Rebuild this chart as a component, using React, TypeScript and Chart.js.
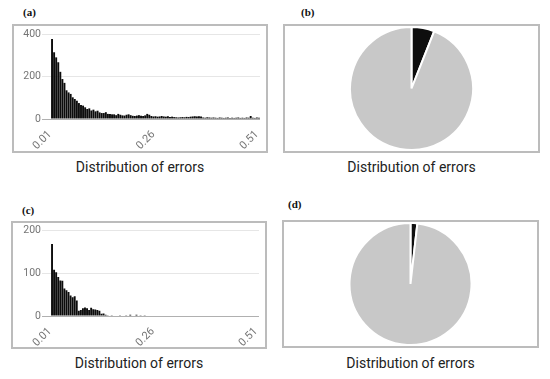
import React, { useEffect, useRef } from "react";
import { Chart, registerables } from "chart.js";

Chart.register(...registerables);
Chart.defaults.font.family = "Roboto";

// Bin starts: 0.010, 0.015, ..., 0.510 (101 bins)
const binStart = 0.01;
const binStep = 0.005;
const binCount = 101;
const binLabels: string[] = [];
for (let i = 0; i < binCount; i++) binLabels.push((binStart + i * binStep).toFixed(3));
const tickLabels = ["0.01", "0.26", "0.51"];
const tickEvery = 50;

// (a) histogram counts
const errorsA = [
  376, 314, 290, 267, 222, 188, 170, 135, 125, 118,
  102, 94, 86, 75, 66, 63, 55, 47, 50, 40,
  44, 36, 39, 31, 28, 28, 32, 24, 24, 22,
  22, 18, 24, 20, 17, 16, 20, 22, 18, 15,
  14, 16, 18, 15, 14, 17, 24, 20, 14, 12,
  13, 11, 12, 14, 12, 11, 13, 10, 11, 9,
  8, 7, 8, 9, 8, 10, 9, 11, 12, 13,
  12, 13, 12, 7, 6, 8, 7, 6, 7, 6,
  5, 7, 6, 5, 6, 7, 5, 6, 5, 6,
  7, 5, 6, 5, 7, 6, 14, 6, 5, 7, 6,
];

// (c) histogram counts
const errorsC = [
  168, 108, 102, 91, 83, 82, 64, 60, 56, 48,
  44, 46, 36, 12, 14, 18, 20, 18, 14, 19,
  16, 15, 14, 12, 5, 6, 3, 2, 1, 2,
  1, 0, 1, 2, 0, 1, 2, 1, 3, 1,
  0, 3, 1, 2, 1, 2, 0, 1, 1, 0,
  1, 0, 0, 0, 0, 0, 0, 0, 0, 0,
  0, 0, 0, 0, 0, 0, 0, 0, 0, 0,
  0, 0, 0, 0, 0, 0, 0, 0, 0, 0,
  0, 0, 0, 0, 0, 0, 0, 0, 0, 0,
  0, 0, 0, 0, 0, 0, 0, 0, 0, 0, 0,
];

const pieLabels = ["Large errors", "Small errors"];
const pieB = [6, 94];
const pieD = [1.8, 98.2];
const pieColors = ["#0e0e0e", "#c8c8c8"];

const yMaxA = 400;
const yStepA = 200;
const yMaxC = 200;
const yStepC = 100;

const TITLE = "Distribution of errors";

type HistProps = {
  left: number; top: number; width: number; height: number;
  data: number[]; max: number; step: number;
  yWidth: number; padTop: number; xHeight: number;
};

function Hist(p: HistProps) {
  const ref = useRef<HTMLCanvasElement | null>(null);
  useEffect(() => {
    if (!ref.current) return;
    const chart = new Chart(ref.current, {
      type: "bar",
      data: {
        labels: binLabels,
        datasets: [
          {
            data: p.data,
            backgroundColor: "#0c0c0c",
            borderWidth: 0,
            barPercentage: 0.93,
            categoryPercentage: 1,
          },
        ],
      },
      options: {
        responsive: false,
        animation: false,
        events: [],
        layout: { padding: { top: p.padTop, right: 6, left: 0, bottom: 0 } },
        plugins: { legend: { display: false }, tooltip: { enabled: false } },
        scales: {
          x: {
            grid: { display: false, drawTicks: false },
            border: { display: false },
            ticks: {
              autoSkip: false,
              maxRotation: 45,
              minRotation: 45,
              padding: 9,
              labelOffset: -2,
              color: "#757575",
              font: { size: 11, family: "Roboto" },
              callback: (_v: any, i: number) =>
                i % tickEvery === 0 ? tickLabels[i / tickEvery] : "",
            },
            afterFit: (s: any) => {
              s.height = p.xHeight;
              s.paddingLeft = 0;
              s.paddingRight = 0;
            },
          },
          y: {
            min: 0,
            max: p.max,
            border: { display: false },
            grid: {
              color: (ctx: any) =>
                ctx.tick && ctx.tick.value === 0 ? "#b0b0b0" : "#e6e6e6",
              tickLength: 9,
            },
            ticks: {
              stepSize: p.step,
              padding: 1,
              color: "#757575",
              font: { size: 10.5, family: "Roboto" },
            },
            afterFit: (s: any) => {
              s.width = p.yWidth;
              s.paddingBottom = 0;
            },
          },
        },
      },
    });
    return () => chart.destroy();
  }, []);
  return (
    <canvas
      ref={ref}
      width={p.width}
      height={p.height}
      style={{ position: "absolute", left: p.left, top: p.top, width: p.width, height: p.height }}
    />
  );
}

type PieProps = { left: number; top: number; width: number; height: number; data: number[] };

function Pie(p: PieProps) {
  const ref = useRef<HTMLCanvasElement | null>(null);
  useEffect(() => {
    if (!ref.current) return;
    const chart = new Chart(ref.current, {
      type: "pie",
      data: {
        labels: pieLabels,
        datasets: [
          {
            data: p.data,
            backgroundColor: pieColors,
            borderColor: "#ffffff",
            borderWidth: 2,
          },
        ],
      },
      options: {
        responsive: false,
        animation: false,
        events: [],
        plugins: { legend: { display: false }, tooltip: { enabled: false } },
      },
    });
    return () => chart.destroy();
  }, []);
  return (
    <canvas
      ref={ref}
      width={p.width}
      height={p.height}
      style={{ position: "absolute", left: p.left, top: p.top, width: p.width, height: p.height }}
    />
  );
}

const boxStyle = (left: number, top: number, w: number, h: number): React.CSSProperties => ({
  position: "absolute",
  left,
  top,
  width: w,
  height: h,
  boxSizing: "border-box",
  border: "2px solid #bcbcbc",
});

const titleStyle = (left: number, top: number, w: number): React.CSSProperties => ({
  position: "absolute",
  left,
  top,
  width: w,
  textAlign: "center",
  fontFamily: "Roboto",
  fontSize: 14,
  lineHeight: "16px",
  color: "#222",
  whiteSpace: "nowrap",
});

const tagStyle = (left: number, top: number): React.CSSProperties => ({
  position: "absolute",
  left,
  top,
  fontFamily: "'Liberation Serif', serif",
  fontWeight: "bold",
  fontSize: 11,
  lineHeight: "12px",
  color: "#111",
});

export default function App() {
  return (
    <div
      style={{
        position: "absolute",
        left: 0,
        top: 0,
        width: 550,
        height: 379,
        background: "#fff",
        overflow: "hidden",
      }}
    >
      <div style={tagStyle(23, 6)}>(a)</div>
      <div style={tagStyle(301, 6)}>(b)</div>
      <div style={tagStyle(22, 204)}>(c)</div>
      <div style={tagStyle(288, 198)}>(d)</div>

      <div style={boxStyle(12, 24, 256, 129)} />
      <div style={boxStyle(283, 24, 257, 129)} />
      <div style={boxStyle(11, 221, 256, 128)} />
      <div style={boxStyle(282, 220, 257, 128)} />

      <Hist left={14} top={26} width={252} height={125} data={errorsA} max={yMaxA} step={yStepA} yWidth={37} padTop={8} xHeight={32} />
      <Pie left={285} top={26} width={253} height={125} data={pieB} />
      <Hist left={13} top={223} width={252} height={124} data={errorsC} max={yMaxC} step={yStepC} yWidth={38} padTop={7} xHeight={31} />
      <Pie left={284} top={222} width={253} height={124} data={pieD} />

      <div style={titleStyle(12, 159, 256)}>{TITLE}</div>
      <div style={titleStyle(283, 159, 257)}>{TITLE}</div>
      <div style={titleStyle(11, 355, 256)}>{TITLE}</div>
      <div style={titleStyle(282, 355, 257)}>{TITLE}</div>
    </div>
  );
}
